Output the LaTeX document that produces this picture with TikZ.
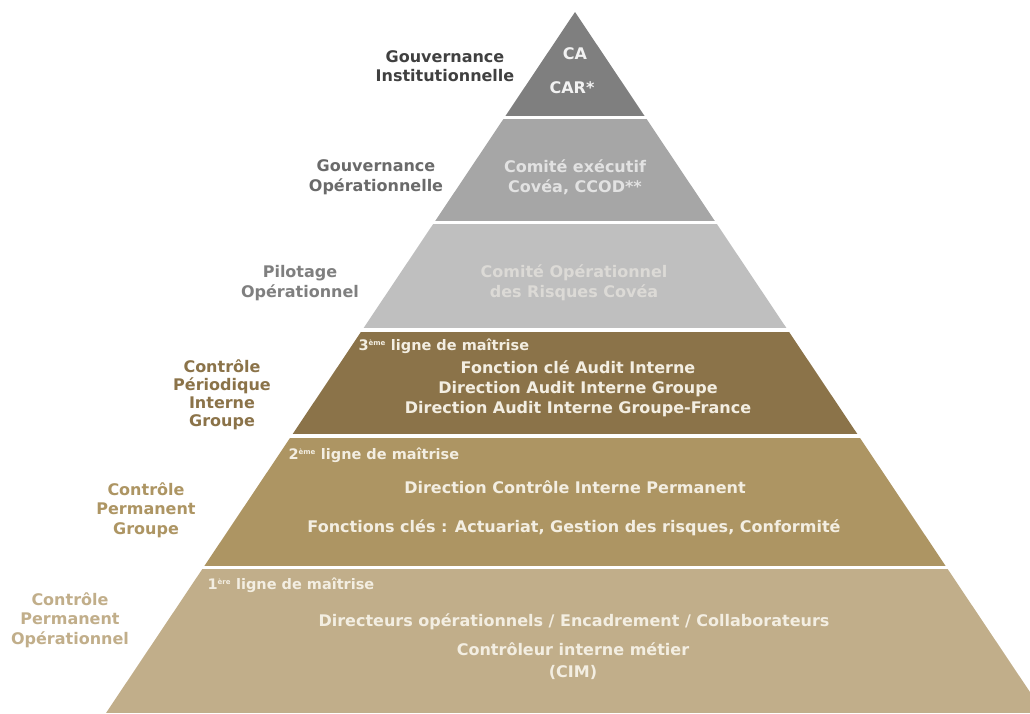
\documentclass[tikz,border=0pt]{standalone}
\usepackage{fontspec}
\setmainfont{DejaVu Sans}
\definecolor{bandA}{HTML}{7F7F7F}
\definecolor{bandB}{HTML}{A6A6A6}
\definecolor{bandC}{HTML}{BFBFBF}
\definecolor{bandD}{HTML}{8B7349}
\definecolor{bandE}{HTML}{AD9563}
\definecolor{bandF}{HTML}{C1AE8A}
\definecolor{textA}{HTML}{F2F2F2}
\definecolor{textB}{HTML}{E2E2E2}
\definecolor{textC}{HTML}{DCDAD6}
\definecolor{textD}{HTML}{F3EEE2}
\definecolor{sideA}{HTML}{404040}
\definecolor{sideB}{HTML}{6A6A6A}
\definecolor{sideC}{HTML}{7F7F7F}
\newcommand{\eme}[1]{\textsuperscript{\fontsize{7}{7}\selectfont #1}}

\begin{document}
\begin{tikzpicture}[x=1pt,y=-1pt,
    side/.style={font=\bfseries\fontsize{16}{19.5}\selectfont,align=center},
    inside/.style={font=\bfseries\fontsize{16}{20}\selectfont,align=center},
    level/.style={font=\bfseries\fontsize{14.5}{16}\selectfont,anchor=west,text=textD}]
    \useasboundingbox (0,0) rectangle (1030,713);

    % pyramid bands
    \begin{scope}
        \clip (575,12) -- (1044,713) -- (106,713) -- cycle;
        \foreach \ya/\yb/\col in {0/116/bandA,119/221/bandB,224/328/bandC,
                                  332/434/bandD,438/566/bandE,569/713/bandF} {
            \fill[\col] (0,\ya) rectangle (1030,\yb);
        }
    \end{scope}

    % left labels
    \node[side,text=sideA] (gouvinst) at (445,66) {Gouvernance\\Institutionnelle};
    \node[side,text=sideB] (gouvop) at (376,177) {Gouvernance\\Opérationnelle};
    \node[side,text=sideC] (pilot) at (300,283) {Pilotage\\Opérationnel};
    \node[side,text=bandD,font=\bfseries\fontsize{16}{18}\selectfont] (ctrlper) at (222,395) {Contrôle\\Périodique\\Interne\\Groupe};
    \node[side,text=bandE] (ctrlgrp) at (146,510) {Contrôle\\Permanent\\Groupe};
    \node[side,text=bandF] (ctrlop) at (70,620) {Contrôle\\Permanent\\Opérationnel};

    % band contents
    \node[inside,text=textA] (ca) at (575,54) {CA};
    \node[inside,text=textA] (car) at (572,88) {CAR*};
    \node[inside,text=textB] (comex) at (575,177) {Comité exécutif\\Covéa, CCOD**};
    \node[inside,text=textC] (corc) at (574,283) {Comité Opérationnel\\des Risques Covéa};
    \node[level] (l3) at (355,346) {3\eme{ème} ligne de maîtrise};
    \node[inside,text=textD] (audit) at (578,389)
        {Fonction clé Audit Interne\\Direction Audit Interne Groupe\\Direction Audit Interne Groupe-France};
    \node[level] (l2) at (285,455) {2\eme{ème} ligne de maîtrise};
    \node[inside,text=textD] (dcip) at (575,487) {Direction Contrôle Interne Permanent};
    \node[inside,text=textD] (fcles) at (574,528) {Fonctions clés : Actuariat, Gestion des risques, Conformité};
    \node[level] (l1) at (204,585) {1\eme{ère} ligne de maîtrise};
    \node[inside,text=textD] (dirop) at (574,622) {Directeurs opérationnels / Encadrement / Collaborateurs};
    \node[inside,text=textD,font=\bfseries\fontsize{16}{22}\selectfont] (cim) at (573,661) {Contrôleur interne métier\\(CIM)};
\end{tikzpicture}
\end{document}
